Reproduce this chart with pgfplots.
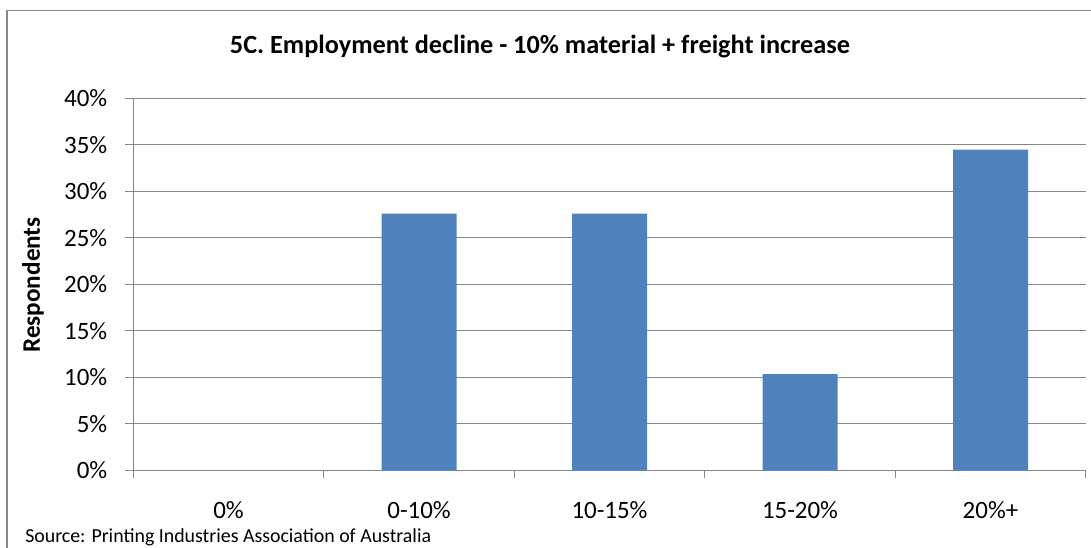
\documentclass[border=0pt]{standalone}
\usepackage{pgfplots}
\pgfplotsset{compat=1.18}
\usepackage{fontspec}
\setmainfont{Carlito}
\definecolor{barblue}{HTML}{4F81BD}
\definecolor{gridgray}{HTML}{868686}
\begin{document}
\begin{tikzpicture}
\useasboundingbox (0,0) rectangle (818.25pt,411pt);
\draw[gridgray,line width=0.9pt] (5.25pt,0) -- (5.25pt,403.3pt) -- (818.25pt,403.3pt);
\begin{axis}[
  at={(100pt,58.3pt)}, anchor=south west,
  scale only axis,
  width=714.3pt, height=279pt,
  xmin=-0.5, xmax=4.5,
  ymin=0, ymax=40,
  ytick={0,5,...,40},
  yticklabel={\pgfmathprintnumber{\tick}\%},
  /pgf/number format/assume math mode=true,
  xtick={0,1,2,3,4},
  xticklabels={0\%,0-10\%,10-15\%,15-20\%,20\%+},
  minor xtick={-0.5,0.5,1.5,2.5,3.5,4.5},
  major x tick style={draw=none},
  tick align=outside,
  major tick length=6pt,
  minor tick length=6pt,
  tick style={gridgray,line width=0.9pt},
  axis line style={gridgray,line width=0.9pt},
  axis x line*=bottom,
  axis y line*=left,
  ymajorgrids,
  grid style={gridgray,line width=0.9pt},
  ticklabel style={font=\fontsize{18.7}{22}\selectfont, text=black},
  xticklabel style={anchor=base, yshift=-30pt},
  yticklabel style={xshift=-10pt},
  ybar, bar width=56.25pt,
  clip=false,
]
\addplot[fill=barblue, draw=none] coordinates {(0,0) (1,27.59) (2,27.59) (3,10.34) (4,34.48)};
\end{axis}
\node[anchor=base, font=\fontsize{19.7}{23}\selectfont\bfseries] at (405pt,370.5pt) {5C. Employment decline - 10\% material + freight increase};
\node[rotate=90, font=\fontsize{18.9}{22}\selectfont\bfseries] at (24.75pt,197.25pt) {Respondents};
\node[anchor=base west, inner sep=0pt, font=\fontsize{14.9}{17}\selectfont] at (18.75pt,3.75pt) {Source: Printing Industries Association of Australia};
\end{tikzpicture}
\end{document}
